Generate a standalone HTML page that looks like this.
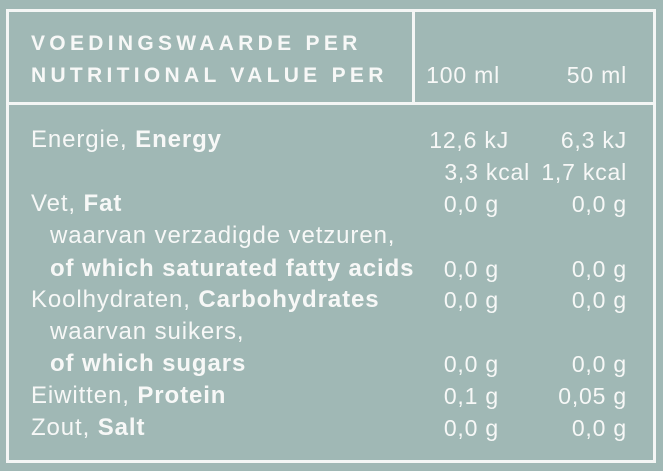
<!DOCTYPE html>
<html><head><style>
body{margin:0;width:663px;height:471px;background:#a0b8b5;overflow:hidden;font-family:"Liberation Sans",sans-serif;color:#f7f8f7;position:relative}
.box{position:absolute;left:6px;top:9px;width:644px;height:448px;border:3px solid #f4f6f5}
.h{position:absolute;left:6px;top:102px;width:650px;height:3px;background:#f4f6f5}
.v{position:absolute;left:412px;top:9px;width:3px;height:96px;background:#f4f6f5}
.t{position:absolute;white-space:nowrap;font-size:24px;line-height:26px;letter-spacing:0.9px}
.n{font-size:23px;letter-spacing:0.8px}
.hd{font-weight:bold;font-size:21px;letter-spacing:4.3px}
b{font-weight:bold}
.r{text-align:right}
</style></head><body>
<div class="box"></div><div class="h"></div><div class="v"></div>
<div class="t hd" style="left:31px;top:31px">VOEDINGSWAARDE PER</div>
<div class="t hd" style="left:31px;top:63px">NUTRITIONAL VALUE PER</div>
<div class="t n r" style="right:163px;top:62px">100 ml</div>
<div class="t n r" style="right:36px;top:62px">50 ml</div>
<div class="t" style="left:31px;top:127px">Energie, <b>Energy</b></div>
<div class="t n r" style="right:154px;top:127px">12,6 kJ</div>
<div class="t n r" style="right:36px;top:127px">6,3 kJ</div>
<div class="t n r" style="right:133px;top:159px">3,3 kcal</div>
<div class="t n r" style="right:36px;top:159px">1,7 kcal</div>
<div class="t" style="left:31px;top:191px">Vet, <b>Fat</b></div>
<div class="t n r" style="right:164px;top:191px">0,0 g</div>
<div class="t n r" style="right:36px;top:191px">0,0 g</div>
<div class="t" style="left:50px;top:223px">waarvan verzadigde vetzuren,</div>
<div class="t" style="left:50px;top:256px"><b>of which saturated fatty acids</b></div>
<div class="t n r" style="right:164px;top:256px">0,0 g</div>
<div class="t n r" style="right:36px;top:256px">0,0 g</div>
<div class="t" style="left:31px;top:287px">Koolhydraten, <b>Carbohydrates</b></div>
<div class="t n r" style="right:164px;top:287px">0,0 g</div>
<div class="t n r" style="right:36px;top:287px">0,0 g</div>
<div class="t" style="left:50px;top:319px">waarvan suikers,</div>
<div class="t" style="left:50px;top:351px"><b>of which sugars</b></div>
<div class="t n r" style="right:164px;top:351px">0,0 g</div>
<div class="t n r" style="right:36px;top:351px">0,0 g</div>
<div class="t" style="left:31px;top:383px">Eiwitten, <b>Protein</b></div>
<div class="t n r" style="right:164px;top:383px">0,1 g</div>
<div class="t n r" style="right:36px;top:383px">0,05 g</div>
<div class="t" style="left:31px;top:415px">Zout, <b>Salt</b></div>
<div class="t n r" style="right:164px;top:415px">0,0 g</div>
<div class="t n r" style="right:36px;top:415px">0,0 g</div>
</body></html>
